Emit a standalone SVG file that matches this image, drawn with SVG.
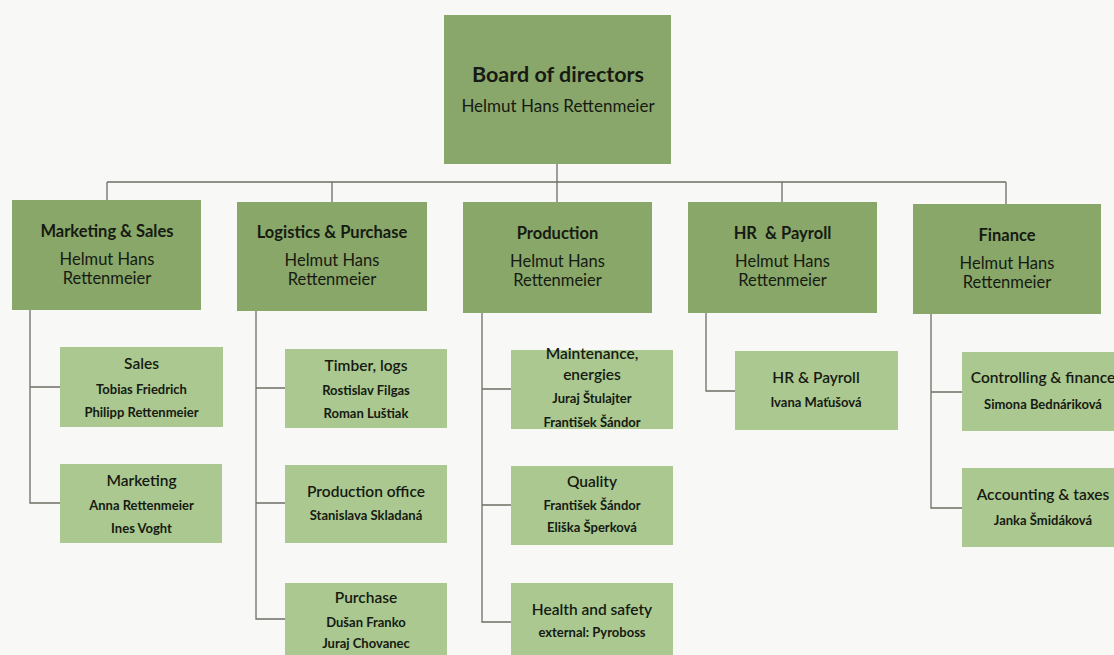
<svg xmlns="http://www.w3.org/2000/svg" width="1114" height="655" viewBox="0 0 1114 655">
<style>
.top{fill:#8aa76b;}
.l1{fill:#88a768;}
.l2{fill:#aac88f;}
text{font-family:Lato,"Liberation Sans",sans-serif;fill:#161a12;text-anchor:middle;}
.bt{font-size:21.5px;font-weight:700;}
.bs{font-size:17px;}
.h1{font-size:16.5px;font-weight:700;}
.n1{font-size:16.5px;}
.h2{font-size:15.5px;font-weight:600;}
.n2{font-size:13px;font-weight:700;}
.c{fill:none;stroke:#6e6e66;stroke-width:1.3;}
</style>
<rect width="1114" height="655" fill="#f8f8f6"/>
<g id="connectors">
<path class="c" d="M557 164V182M107 182H1006M107 182V200M332 182V202M557 182V202M782 182V202M1006 182V204"/>
<path class="c" d="M30 310V503H60M30 387H60"/>
<path class="c" d="M256 311V619H285M256 388H285M256 503H285"/>
<path class="c" d="M482 313V622H511M482 389H511M482 505H511"/>
<path class="c" d="M706 313V391H735"/>
<path class="c" d="M931 314V508H962M931 392H962"/>
</g>
<g id="board">
<rect class="top" x="444" y="15" width="227" height="149"/>
<text class="bt" x="558" y="82">Board of directors</text>
<text class="bs" x="558" y="112">Helmut Hans Rettenmeier</text>
</g>
<g id="marketing-sales">
<rect class="l1" x="12" y="200" width="189" height="110"/>
<text class="h1" x="107" y="237">Marketing &amp; Sales</text>
<text class="n1" x="107" y="265">Helmut Hans</text>
<text class="n1" x="107" y="284">Rettenmeier</text>
</g>
<g id="logistics-purchase">
<rect class="l1" x="237" y="202" width="190" height="109"/>
<text class="h1" x="332" y="238">Logistics &amp; Purchase</text>
<text class="n1" x="332" y="266">Helmut Hans</text>
<text class="n1" x="332" y="285">Rettenmeier</text>
</g>
<g id="production">
<rect class="l1" x="463" y="202" width="189" height="111"/>
<text class="h1" x="557.5" y="239">Production</text>
<text class="n1" x="557.5" y="267">Helmut Hans</text>
<text class="n1" x="557.5" y="286">Rettenmeier</text>
</g>
<g id="hr-payroll">
<rect class="l1" x="688" y="202" width="189" height="111"/>
<text class="h1" x="782.5" y="239" xml:space="preserve">HR  &amp; Payroll</text>
<text class="n1" x="782.5" y="267">Helmut Hans</text>
<text class="n1" x="782.5" y="286">Rettenmeier</text>
</g>
<g id="finance">
<rect class="l1" x="913" y="204" width="188" height="110"/>
<text class="h1" x="1007" y="241">Finance</text>
<text class="n1" x="1007" y="269">Helmut Hans</text>
<text class="n1" x="1007" y="288">Rettenmeier</text>
</g>
<g id="sales">
<rect class="l2" x="60" y="347" width="163" height="80"/>
<text class="h2" x="141.5" y="369">Sales</text>
<text class="n2" x="141.5" y="394">Tobias Friedrich</text>
<text class="n2" x="141.5" y="417">Philipp Rettenmeier</text>
</g>
<g id="marketing">
<rect class="l2" x="60" y="464" width="162" height="79"/>
<text class="h2" x="141.5" y="486">Marketing</text>
<text class="n2" x="141.5" y="510">Anna Rettenmeier</text>
<text class="n2" x="141.5" y="533">Ines Voght</text>
</g>
<g id="timber-logs">
<rect class="l2" x="285" y="349" width="162" height="79"/>
<text class="h2" x="366" y="371">Timber, logs</text>
<text class="n2" x="366" y="395">Rostislav Filgas</text>
<text class="n2" x="366" y="418">Roman Luštiak</text>
</g>
<g id="production-office">
<rect class="l2" x="285" y="465" width="162" height="78"/>
<text class="h2" x="366" y="497">Production office</text>
<text class="n2" x="366" y="520">Stanislava Skladaná</text>
</g>
<g id="purchase">
<rect class="l2" x="285" y="583" width="162" height="75"/>
<text class="h2" x="366" y="603">Purchase</text>
<text class="n2" x="366" y="627">Dušan Franko</text>
<text class="n2" x="366" y="648">Juraj Chovanec</text>
</g>
<g id="maintenance">
<rect class="l2" x="511" y="350" width="162" height="79"/>
<text class="h2" x="592" y="359">Maintenance,</text>
<text class="h2" x="592" y="380">energies</text>
<text class="n2" x="592" y="403">Juraj Štulajter</text>
<text class="n2" x="592" y="427">František Šándor</text>
</g>
<g id="quality">
<rect class="l2" x="511" y="466" width="162" height="79"/>
<text class="h2" x="592" y="487">Quality</text>
<text class="n2" x="592" y="510">František Šándor</text>
<text class="n2" x="592" y="532">Eliška Šperková</text>
</g>
<g id="health-safety">
<rect class="l2" x="511" y="583" width="162" height="75"/>
<text class="h2" x="592" y="615">Health and safety</text>
<text class="n2" x="592" y="637">external: Pyroboss</text>
</g>
<g id="hr-payroll-team">
<rect class="l2" x="735" y="351" width="163" height="79"/>
<text class="h2" x="816" y="383">HR &amp; Payroll</text>
<text class="n2" x="816" y="407">Ivana Maťušová</text>
</g>
<g id="controlling-finance">
<rect class="l2" x="962" y="352" width="162" height="79"/>
<text class="h2" x="1043" y="383">Controlling &amp; finance</text>
<text class="n2" x="1043" y="409">Simona Bednáriková</text>
</g>
<g id="accounting-taxes">
<rect class="l2" x="962" y="468" width="162" height="79"/>
<text class="h2" x="1043" y="500">Accounting &amp; taxes</text>
<text class="n2" x="1043" y="525">Janka Šmidáková</text>
</g>
</svg>
